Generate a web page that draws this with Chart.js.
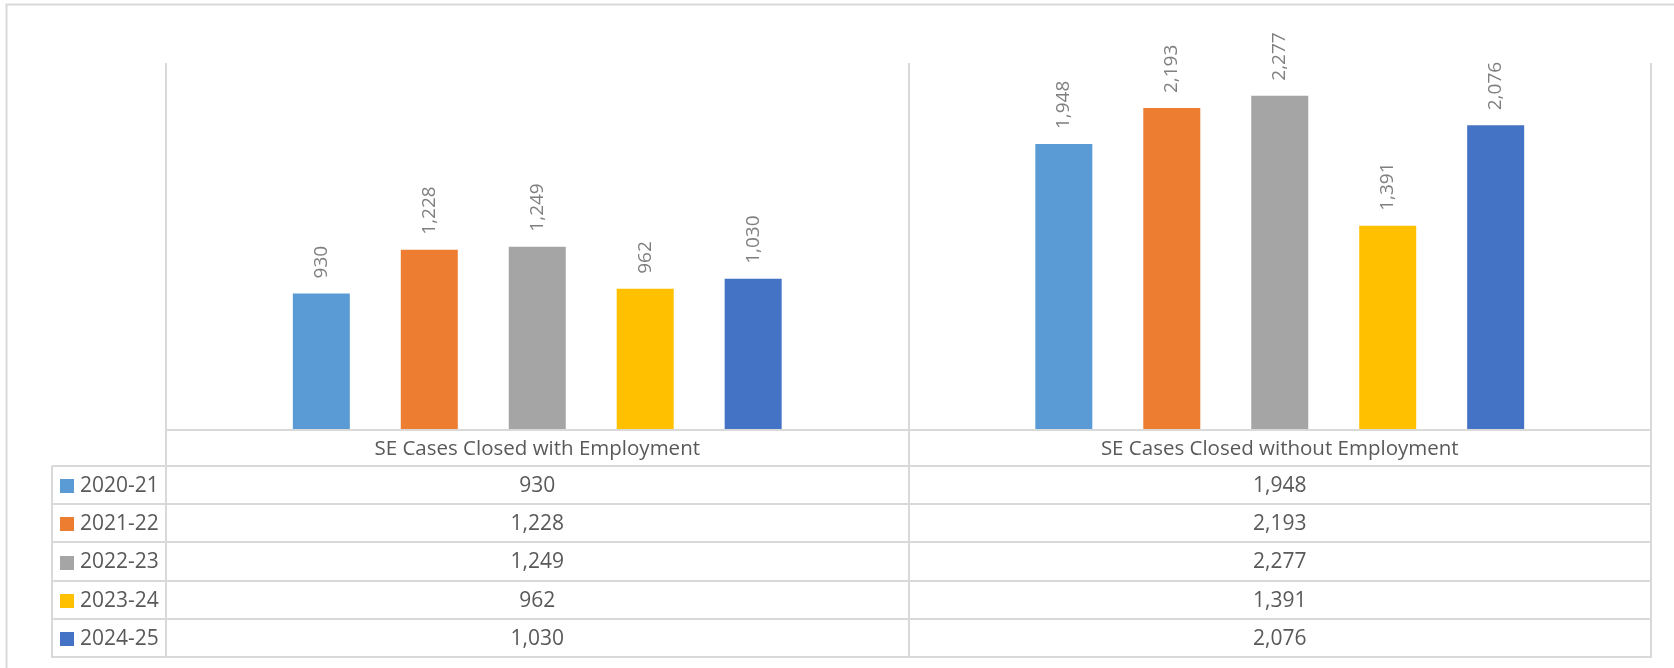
<!DOCTYPE html>
<html>
<head>
<meta charset="utf-8">
<script src="https://cdn.jsdelivr.net/npm/chart.js@4.4.1/dist/chart.umd.min.js"></script>
<style>
  html, body { margin: 0; padding: 0; background: #ffffff; }
  canvas { display: block; }
</style>
</head>
<body>
<canvas id="c" width="1674" height="668"></canvas>
<script>
const categories = ['SE Cases Closed with Employment', 'SE Cases Closed without Employment'];
const years = ['2020-21', '2021-22', '2022-23', '2023-24', '2024-25'];
const withEmployment = [930, 1228, 1249, 962, 1030];
const withoutEmployment = [1948, 2193, 2277, 1391, 2076];
const yearColors = ['#5b9bd5', '#ed7d31', '#a5a5a5', '#ffc000', '#4472c4'];
const yMax = 2500;

const FONT = '"Open Sans", "Noto Sans", sans-serif';
const LINE = '#d9d9d9';
const TEXT = '#595959';
const LABEL = '#7f7f7f';

const datasets = years.map((y, i) => ({
  label: y,
  data: [withEmployment[i], withoutEmployment[i]],
  backgroundColor: yearColors[i],
  borderWidth: 0,
  categoryPercentage: 0.727,
  barPercentage: 0.528
}));

const fmt = v => v.toLocaleString('en-US');

const tablePlugin = {
  id: 'tablePlugin',
  beforeDraw(chart) {
    const ctx = chart.ctx;
    ctx.save();
    ctx.fillStyle = '#ffffff';
    ctx.fillRect(0, 0, chart.width, chart.height);
    ctx.restore();
  },
  afterDraw(chart) {
    const ctx = chart.ctx;
    const a = chart.chartArea;
    const xs = chart.scales.x;
    const catW = (a.right - a.left) / categories.length;
    const legendLeft = 52;
    const catRowBottom = a.bottom + 36;
    const tableBottom = 657;
    const rowH = (tableBottom - catRowBottom) / years.length;

    ctx.save();
    ctx.strokeStyle = LINE;
    ctx.lineWidth = 2;
    ctx.beginPath();
    ctx.moveTo(6.5, 668); ctx.lineTo(6.5, 4.5); ctx.lineTo(1674, 4.5);
    ctx.stroke();

    ctx.beginPath();
    for (let k = 0; k <= categories.length; k++) {
      const x = Math.round(a.left + k * catW);
      ctx.moveTo(x, a.top); ctx.lineTo(x, tableBottom + 1);
    }
    ctx.moveTo(legendLeft, catRowBottom); ctx.lineTo(legendLeft, tableBottom + 1);
    ctx.moveTo(a.left, a.bottom); ctx.lineTo(a.right, a.bottom);
    for (let r = 0; r <= years.length; r++) {
      const y = Math.round(catRowBottom + r * rowH);
      ctx.moveTo(legendLeft, y); ctx.lineTo(a.right, y);
    }
    ctx.stroke();

    ctx.fillStyle = TEXT;
    ctx.font = '20.5px ' + FONT;
    ctx.textAlign = 'center';
    ctx.textBaseline = 'middle';
    categories.forEach((c, k) => {
      ctx.fillText(c, xs.getPixelForValue(k), (a.bottom + catRowBottom) / 2 + 1);
    });

    years.forEach((y, r) => {
      const cy = catRowBottom + r * rowH + rowH / 2 + 1;
      ctx.fillStyle = yearColors[r];
      ctx.fillRect(60, Math.round(cy - 7), 14, 14);
      ctx.fillStyle = TEXT;
      ctx.font = '21px ' + FONT;
      ctx.textAlign = 'left';
      ctx.fillText(y, 80, cy);
      ctx.textAlign = 'center';
      const vals = [withEmployment[r], withoutEmployment[r]];
      vals.forEach((v, k) => {
        ctx.fillText(fmt(v), xs.getPixelForValue(k), cy);
      });
    });

    ctx.fillStyle = LABEL;
    ctx.font = '19px ' + FONT;
    ctx.textAlign = 'left';
    ctx.textBaseline = 'middle';
    chart.data.datasets.forEach((ds, i) => {
      const meta = chart.getDatasetMeta(i);
      meta.data.forEach((bar, k) => {
        ctx.save();
        ctx.translate(bar.x, bar.y - 15);
        ctx.rotate(-Math.PI / 2);
        ctx.fillText(fmt(ds.data[k]), 0, 0);
        ctx.restore();
      });
    });
    ctx.restore();
  }
};

new Chart(document.getElementById('c'), {
  type: 'bar',
  data: { labels: categories, datasets },
  options: {
    responsive: false,
    animation: false,
    devicePixelRatio: 1,
    layout: { padding: { left: 166, right: 23, top: 63, bottom: 238 } },
    plugins: { legend: { display: false }, tooltip: { enabled: false } },
    scales: {
      x: { display: false },
      y: { display: false, min: 0, max: yMax }
    }
  },
  plugins: [tablePlugin]
});
</script>
</body>
</html>
